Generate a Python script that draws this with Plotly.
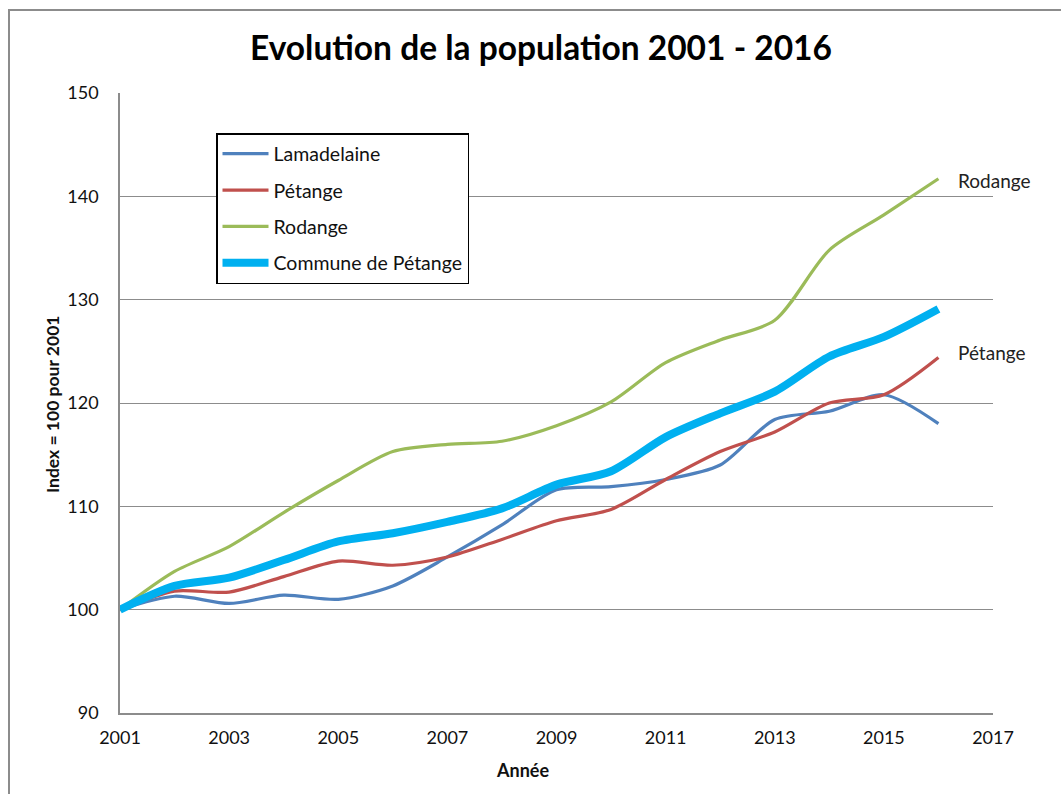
import plotly.graph_objects as go

years = list(range(2001, 2017))
lamadelaine = [100, 101.3, 100.6, 101.4, 101.0, 102.3, 105.1, 108.2, 111.6, 111.9, 112.6, 114.0, 118.4, 119.2, 120.8, 118.0]
petange = [100, 101.8, 101.7, 103.2, 104.7, 104.3, 105.1, 106.8, 108.6, 109.7, 112.6, 115.3, 117.2, 120.0, 120.8, 124.4]
rodange = [100, 103.7, 106.1, 109.4, 112.5, 115.3, 116.0, 116.3, 117.8, 120.1, 123.9, 126.1, 128.0, 134.8, 138.2, 141.7]
commune = [100, 102.3, 103.1, 104.8, 106.6, 107.4, 108.5, 109.8, 112.1, 113.4, 116.7, 119.0, 121.1, 124.5, 126.4, 129.1]

series_names = ["Lamadelaine", "Pétange", "Rodange", "Commune de Pétange"]
series_values = [lamadelaine, petange, rodange, commune]
colors = ["#4F81BD", "#C0504D", "#9BBB59", "#00B0F0"]
widths = [3.2, 3.2, 3.2, 8]

x_ticks = list(range(2001, 2018, 2))
y_ticks = list(range(90, 151, 10))

FONT = "Lato, 'Open Sans', sans-serif"

fig = go.Figure()
for name, vals, c, w in zip(series_names, series_values, colors, widths):
    fig.add_trace(go.Scatter(
        x=years, y=vals, mode="lines", name=name, legendgroup=name,
        line=dict(color=c, width=w, shape="spline", smoothing=0.8),
        hoverinfo="x+y+name",
    ))

# end labels
fig.add_annotation(x=years[-1], y=rodange[-1], text="Rodange", showarrow=False,
                   xanchor="left", xshift=18, yshift=-2, font=dict(size=19, color="#222"))
fig.add_annotation(x=years[-1], y=petange[-1], text="Pétange", showarrow=False,
                   xanchor="left", xshift=18, yshift=5, font=dict(size=19, color="#222"))

# axis titles
fig.add_annotation(xref="paper", yref="paper", x=(522 - 120) / 873, y=-(770 - 713) / 620,
                   text="<b>Année</b>", showarrow=False, xanchor="center", yanchor="middle",
                   font=dict(size=18, color="#111"))
fig.add_annotation(xref="paper", yref="paper", x=-(120 - 53) / 873, y=(713 - 405) / 620,
                   text="<b>Index = 100 pour 2001</b>", showarrow=False, textangle=-90,
                   xanchor="center", yanchor="middle", font=dict(size=17.5, color="#111"))

# outer chart border
fig.add_shape(type="rect", xref="paper", yref="paper",
              x0=-(120 - 9) / 873, x1=(1075 - 120) / 873,
              y0=-(810 - 713) / 620, y1=(713 - 10) / 620,
              line=dict(color="#8C8C8C", width=2), fillcolor="rgba(0,0,0,0)", layer="below")

fig.update_layout(
    width=1061, height=794,
    margin=dict(l=120, r=68, t=93, b=81),
    paper_bgcolor="white", plot_bgcolor="white",
    font=dict(family=FONT, size=18, color="#111"),
    title=dict(text="<b>Evolution de la population 2001 - 2016</b>",
               x=541 / 1061, xanchor="center", y=1 - 48 / 794, yanchor="middle",
               font=dict(size=33.5, color="#000")),
    showlegend=True,
    legend=dict(x=(216 - 120) / 873, y=(713 - 133) / 620, xanchor="left", yanchor="top",
                bgcolor="white", bordercolor="#000", borderwidth=1.5,
                font=dict(size=19.5, color="#111"), tracegroupgap=8,
                itemwidth=46),
    xaxis=dict(range=[2001, 2017], tickvals=x_ticks, ticktext=[str(v) for v in x_ticks],
               showgrid=False, zeroline=False, showline=True, linecolor="#8C8C8C", linewidth=1.5,
               ticks="", ticklabelstandoff=8, tickfont=dict(size=18, color="#111")),
    yaxis=dict(range=[90, 150], tickvals=y_ticks, ticktext=[str(v) for v in y_ticks],
               showgrid=True, gridcolor="#8C8C8C", gridwidth=1.3, zeroline=False,
               showline=True, linecolor="#8C8C8C", linewidth=1.5, ticks="",
               ticklabelstandoff=16, tickfont=dict(size=18, color="#111")),
)

fig.write_html("out.html", config={"displayModeBar": False},
               post_script="document.body.style.margin='0px';")
